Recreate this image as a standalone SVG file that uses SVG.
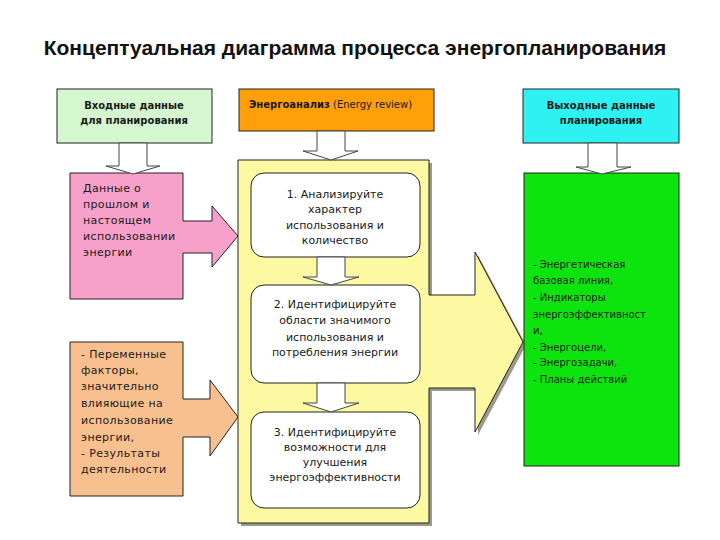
<svg xmlns="http://www.w3.org/2000/svg" width="720" height="540" viewBox="0 0 720 540">
<style>
.t{font-family:"DejaVu Sans",Verdana,sans-serif;font-size:11px;fill:#1a1a1a}
.c{text-anchor:middle}
.b{font-weight:bold}
.s{font-size:10px}
.w{letter-spacing:0.35px}
.box{stroke:#222;stroke-width:1}
.ha{fill:#fff;stroke:#444;stroke-width:1}
.rb{fill:#fff;stroke:#222;stroke-width:1}
</style>
<rect width="720" height="540" fill="#fff"/>
<text x="355" y="55" text-anchor="middle" font-family="'Liberation Sans',Arial,sans-serif" font-weight="bold" font-size="21" fill="#111">Концептуальная диаграмма процесса энергопланирования</text>

<g id="input-header">
<rect class="box" x="57" y="89" width="155" height="54" fill="#d4f7cf"/>
<text class="t c b s" x="134" y="109">Входные данные</text>
<text class="t c b s" x="134" y="124">для планирования</text>
</g>

<g id="energy-review-header">
<rect class="box" x="239" y="89" width="195" height="42" fill="#ff9f0a"/>
<text class="t s" x="249" y="108" fill="#2a1400"><tspan font-weight="bold">Энергоанализ</tspan>  (Energy review)</text>
</g>

<g id="output-header">
<rect class="box" x="523" y="89" width="156" height="54" fill="#2ef2f2"/>
<text class="t c b s" x="601" y="109">Выходные данные</text>
<text class="t c b s" x="601" y="124">планирования</text>
</g>

<g id="past-data">
<polygon class="box" points="70,173 183,173 183,221 212,221 212,206 238,236 212,267 212,253 183,253 183,299 70,299" fill="#f7a0c9"/>
<text class="t w" x="83" y="192">Данные о</text>
<text class="t w" x="83" y="208">прошлом и</text>
<text class="t w" x="83" y="224">настоящем</text>
<text class="t w" x="83" y="240">использовании</text>
<text class="t w" x="83" y="256">энергии</text>
</g>

<g id="variables">
<polygon class="box" points="70,342 183,342 183,399 210,399 210,380 238,417 210,456 210,437 183,437 183,496 70,496" fill="#f9c08f"/>
<text class="t w" x="81" y="358">- Переменные</text>
<text class="t w" x="81" y="374">факторы,</text>
<text class="t w" x="81" y="390">значительно</text>
<text class="t w" x="81" y="407">влияющие на</text>
<text class="t w" x="81" y="424">использование</text>
<text class="t w" x="81" y="441">энергии,</text>
<text class="t w" x="81" y="457">- Результаты</text>
<text class="t w" x="81" y="473">деятельности</text>
</g>

<g id="energy-review-panel">
<polygon points="241,163 432,163 432,298 478,298 478,255 526,345 478,435 478,391 432,391 432,526 241,526" fill="#9a9a8a"/>
<polygon class="box" points="238,160 429,160 429,295 475,295 475,252 523,342 475,432 475,388 429,388 429,523 238,523" fill="#fdf9a3"/>
</g>

<g id="step1">
<rect class="rb" x="251" y="173" width="169" height="84" rx="13"/>
<text class="t c" x="335" y="198">1. Анализируйте</text>
<text class="t c" x="335" y="213">характер</text>
<text class="t c" x="335" y="229">использования и</text>
<text class="t c" x="335" y="244">количество</text>
</g>

<g id="step2">
<rect class="rb" x="251" y="285" width="169" height="98" rx="13"/>
<text class="t c" x="335" y="308">2. Идентифицируйте</text>
<text class="t c" x="335" y="324">области значимого</text>
<text class="t c" x="335" y="341">использования и</text>
<text class="t c" x="335" y="356">потребления энергии</text>
</g>

<g id="step3">
<rect class="rb" x="251" y="412" width="169" height="96" rx="13"/>
<text class="t c" x="335" y="436">3. Идентифицируйте</text>
<text class="t c" x="335" y="451">возможности для</text>
<text class="t c" x="335" y="466">улучшения</text>
<text class="t c" x="335" y="481">энергоэффективности</text>
</g>

<g id="outputs">
<rect class="box" x="524" y="173" width="155" height="293" fill="#0de40d"/>
<text class="t s" x="533" y="268">- Энергетическая</text>
<text class="t s" x="533" y="284">базовая линия,</text>
<text class="t s" x="533" y="301">- Индикаторы</text>
<text class="t s" x="533" y="318">энергоэффективност</text>
<text class="t s" x="533" y="334">и,</text>
<text class="t s" x="533" y="351">- Энергоцели,</text>
<text class="t s" x="533" y="366">- Энергозадачи,</text>
<text class="t s" x="533" y="383">- Планы действий</text>
</g>

<g id="connectors">
<polygon class="ha" points="119,143 147,143 147,166 160,166 133,174 106,166 119,166"/>
<polygon class="ha" points="317,131 345,131 345,151 358,151 331,160 303,151 317,151"/>
<polygon class="ha" points="588,143 617,143 617,167 631,167 602,174 576,167 588,167"/>
<polygon class="ha" points="317,257 345,257 345,277 359,277 331,285 303,277 317,277"/>
<polygon class="ha" points="317,383 345,383 345,403 359,403 331,412 303,403 317,403"/>
</g>
</svg>
